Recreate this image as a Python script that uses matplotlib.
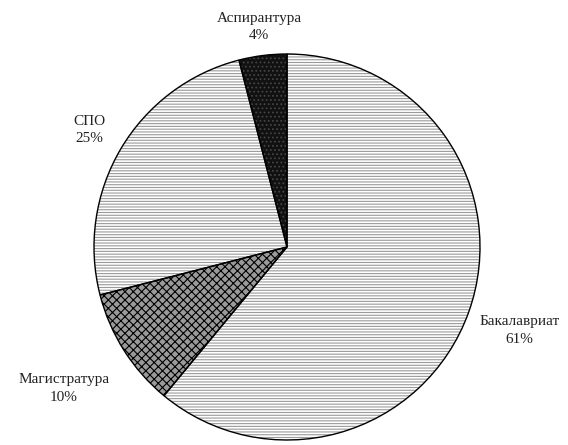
import numpy as np
import matplotlib.pyplot as plt

plt.rcParams['font.family'] = ['Liberation Serif', 'DejaVu Serif']
plt.rcParams['hatch.linewidth'] = 0.8

# data
levels = ['Бакалавриат', 'Магистратура', 'СПО', 'Аспирантура']
shares = [61, 10, 25, 4]

# styling per wedge
faces = ['white', '#9a9a9a', 'white', '#111111']
hatch_cols = ['#9a9a9a', 'black', '#9a9a9a', '#444444']
hatches = ['------', 'xxxx', '------', '....']
label_dist = [1.28, 1.37, 1.19, 1.15]

fig = plt.figure(figsize=(5.68, 4.45), dpi=100)
ax = fig.add_axes([94/568, 5/445, 386/568, 386/445])

# hatched fill
wedges, _ = ax.pie(shares, startangle=90, counterclock=False, radius=1,
                   colors=faces, wedgeprops=dict(linewidth=0))
for w, h, c in zip(wedges, hatches, hatch_cols):
    w.set_hatch(h)
    w.set_edgecolor(c)

# outlines
ax.pie(shares, startangle=90, counterclock=False, radius=1,
       colors=['none'] * len(shares),
       wedgeprops=dict(edgecolor='black', linewidth=1.0, fill=False))

total = sum(shares)
for w, name, s, d in zip(wedges, levels, shares, label_dist):
    ang = np.deg2rad((w.theta1 + w.theta2) / 2)
    ax.text(d * np.cos(ang), d * np.sin(ang),
            f'{name}\n{round(100 * s / total)}%',
            ha='center', va='center', fontsize=11, color='#222222',
            linespacing=1.45)

ax.set_xlim(-1, 1)
ax.set_ylim(-1, 1)
ax.set_aspect('equal')
ax.axis('off')

fig.savefig('out.png', dpi=100)
